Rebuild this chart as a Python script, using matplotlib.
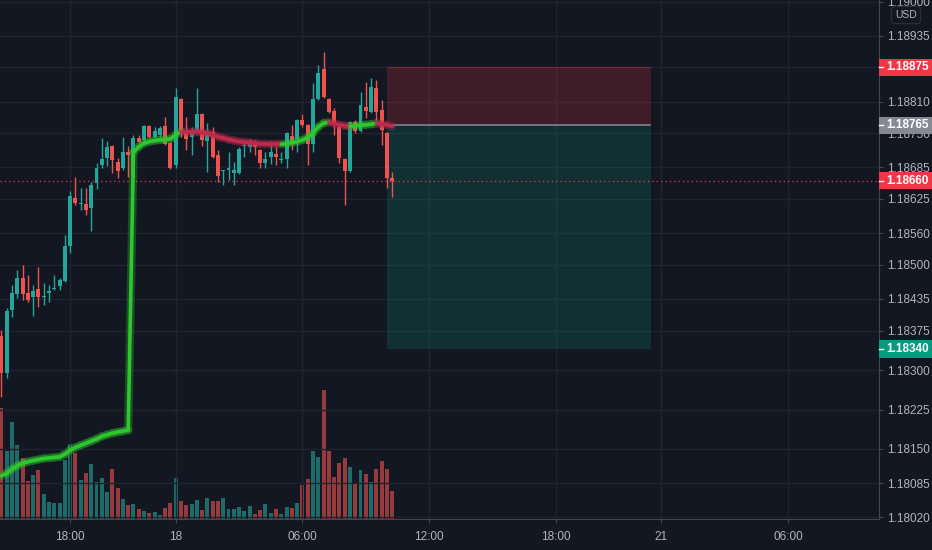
import numpy as np
import matplotlib
matplotlib.use('Agg')
import matplotlib.pyplot as plt
import matplotlib.transforms as mtransforms
from matplotlib.collections import LineCollection
from matplotlib.patches import Rectangle

plt.rcParams['font.family'] = ['Liberation Sans', 'DejaVu Sans']

# 15 minute EURUSD candles
opens = [1.18365, 1.18294, 1.18414, 1.18444, 1.18475, 1.18446, 1.18438, 1.18454, 1.18439, 1.18446,
         1.18454, 1.18460, 1.18470, 1.18536, 1.18626, 1.18615, 1.18615, 1.18608, 1.18655, 1.18690,
         1.18703, 1.18726, 1.18695, 1.18684, 1.18714, 1.18665, 1.18741, 1.18737, 1.18764, 1.18743,
         1.18747, 1.18764, 1.18731, 1.18690, 1.18815, 1.18752, 1.18743, 1.18754, 1.18786, 1.18735,
         1.18752, 1.18708, 1.18678, 1.18680, 1.18674, 1.18674, 1.18725, 1.18724, 1.18729, 1.18718,
         1.18693, 1.18705, 1.18710, 1.18699, 1.18701, 1.18745, 1.18739, 1.18775, 1.18766, 1.18729,
         1.18815, 1.18872, 1.18815, 1.18792, 1.18762, 1.18701, 1.18678, 1.18771, 1.18754, 1.18800,
         1.18790, 1.18836, 1.18794, 1.18750, 1.18665]
highs = [1.18376, 1.18417, 1.18461, 1.18490, 1.18500, 1.18480, 1.18461, 1.18496, 1.18465, 1.18461,
         1.18480, 1.18475, 1.18557, 1.18641, 1.18666, 1.18645, 1.18645, 1.18658, 1.18693, 1.18740,
         1.18735, 1.18728, 1.18703, 1.18743, 1.18726, 1.18747, 1.18747, 1.18766, 1.18766, 1.18762,
         1.18764, 1.18781, 1.18733, 1.18836, 1.18817, 1.18781, 1.18762, 1.18836, 1.18788, 1.18769,
         1.18762, 1.18718, 1.18680, 1.18714, 1.18695, 1.18724, 1.18737, 1.18739, 1.18737, 1.18720,
         1.18714, 1.18735, 1.18726, 1.18714, 1.18752, 1.18766, 1.18777, 1.18786, 1.18767, 1.18845,
         1.18880, 1.18904, 1.18817, 1.18798, 1.18766, 1.18703, 1.18773, 1.18775, 1.18828, 1.18847,
         1.18855, 1.18851, 1.18813, 1.18752, 1.18676]
lows = [1.18249, 1.18284, 1.18400, 1.18436, 1.18433, 1.18430, 1.18403, 1.18420, 1.18423, 1.18429,
        1.18452, 1.18453, 1.18468, 1.18523, 1.18614, 1.18604, 1.18595, 1.18565, 1.18644, 1.18683,
        1.18688, 1.18674, 1.18665, 1.18680, 1.18667, 1.18661, 1.18731, 1.18735, 1.18741, 1.18741,
        1.18743, 1.18728, 1.18682, 1.18684, 1.18743, 1.18718, 1.18708, 1.18752, 1.18726, 1.18676,
        1.18703, 1.18657, 1.18652, 1.18661, 1.18652, 1.18672, 1.18705, 1.18714, 1.18708, 1.18684,
        1.18684, 1.18691, 1.18690, 1.18693, 1.18684, 1.18718, 1.18714, 1.18762, 1.18690, 1.18714,
        1.18813, 1.18817, 1.18788, 1.18747, 1.18693, 1.18614, 1.18676, 1.18750, 1.18752, 1.18779,
        1.18788, 1.18775, 1.18728, 1.18646, 1.18629]
closes = [1.18294, 1.18412, 1.18446, 1.18475, 1.18444, 1.18434, 1.18451, 1.18439, 1.18441, 1.18451,
          1.18456, 1.18471, 1.18536, 1.18631, 1.18617, 1.18618, 1.18604, 1.18652, 1.18684, 1.18701,
          1.18724, 1.18699, 1.18678, 1.18714, 1.18708, 1.18741, 1.18733, 1.18764, 1.18743, 1.18754,
          1.18760, 1.18729, 1.18684, 1.18819, 1.18750, 1.18739, 1.18754, 1.18786, 1.18737, 1.18754,
          1.18705, 1.18669, 1.18680, 1.18684, 1.18680, 1.18720, 1.18727, 1.18729, 1.18724, 1.18693,
          1.18701, 1.18714, 1.18705, 1.18701, 1.18750, 1.18733, 1.18775, 1.18766, 1.18729, 1.18815,
          1.18864, 1.18819, 1.18790, 1.18766, 1.18703, 1.18678, 1.18771, 1.18754, 1.18804, 1.18792,
          1.18838, 1.18790, 1.18756, 1.18665, 1.18660]
volumes = [111, 68, 97, 74, 61, 38, 44, 49, 25, 17, 16, 16, 59, 75, 66, 39, 46, 55, 37, 41,
           27, 50, 31, 20, 14, 15, 10, 8, 6, 7, 4, 11, 16, 41, 18, 14, 15, 19, 9, 21,
           18, 18, 21, 10, 10, 12, 8, 13, 5, 9, 15, 6, 10, 5, 12, 11, 16, 34, 40, 68,
           62, 129, 68, 42, 56, 61, 52, 36, 49, 45, 37, 50, 58, 50, 28]
# session average line (resets mid chart)
avg_line = [1.18099, 1.18104, 1.18112, 1.18118, 1.18123, 1.18126, 1.18128, 1.18130, 1.18132, 1.18133,
            1.18134, 1.18135, 1.18140, 1.18148, 1.18153, 1.18157, 1.18161, 1.18165, 1.18169, 1.18174,
            1.18177, 1.18180, 1.18182, 1.18184, 1.18186, 1.18714, 1.18724, 1.18731, 1.18734, 1.18736,
            1.18737, 1.18738, 1.18739, 1.18747, 1.18753, 1.18753, 1.18752, 1.18752, 1.18751, 1.18750,
            1.18747, 1.18743, 1.18741, 1.18738, 1.18736, 1.18734, 1.18733, 1.18732, 1.18731, 1.18730,
            1.18730, 1.18729, 1.18729, 1.18729, 1.18730, 1.18732, 1.18734, 1.18737, 1.18742, 1.18750,
            1.18762, 1.18769, 1.18771, 1.18768, 1.18766, 1.18764, 1.18763, 1.18764, 1.18765, 1.18766,
            1.18767, 1.18769, 1.18767, 1.18766, 1.18763]

# short position tool
entry = 1.18765
stop = 1.18875
target = 1.18340
last_price = 1.18660
pos_start, pos_end = 73, 123

price_ticks = [1.19000, 1.18935, 1.18875, 1.18810, 1.18750, 1.18685, 1.18625, 1.18560, 1.18500,
               1.18435, 1.18375, 1.18300, 1.18225, 1.18150, 1.18085, 1.18020]
time_pos = [13, 33, 57, 81, 105, 125, 149]
time_labels = ['18:00', '18', '06:00', '12:00', '18:00', '21', '06:00']

bg = '#131722'
txt = '#b2b5be'
line_c = '#434651'
grid_c = '#1f2330'
teal = '#26a69a'
red = '#ef5350'

fig = plt.figure(figsize=(9.32, 5.5), dpi=100, facecolor=bg)
rect = [0, 31 / 550, 879 / 932, 519 / 550]
axv = fig.add_axes(rect)
ax = fig.add_axes(rect)
ax.patch.set_alpha(0)

x = np.arange(len(opens))
o = np.array(opens)
c = np.array(closes)
up = c >= o
xlim = (-0.28, 166.2)

# volume underneath
vcol = [(38/255, 166/255, 154/255, 0.6) if u else (239/255, 83/255, 80/255, 0.6) for u in up]
axv.bar(x, volumes, width=0.75, color=vcol, linewidth=0)
axv.set_xlim(*xlim)
axv.set_ylim(0, 519)
axv.axis('off')

# grid
ax.set_xlim(*xlim)
ax.set_ylim(1.18017, 1.19003)
ax.set_yticks(price_ticks)
ax.set_yticklabels([f'{p:.5f}' for p in price_ticks])
ax.set_xticks(time_pos)
ax.set_xticklabels(time_labels)
ax.grid(True, color=grid_c, lw=1, zorder=0)
ax.set_axisbelow(True)

# position box
ax.fill_between([pos_start, pos_end], entry, stop, color='#f23645', alpha=0.2, lw=0, zorder=1)
ax.fill_between([pos_start, pos_end], target, entry, color='#089981', alpha=0.2, lw=0, zorder=1)
ax.hlines(entry, pos_start, pos_end, color='#787b86', lw=1.3, zorder=2)
ax.hlines(stop, pos_start, pos_end, color='#f23645', lw=0.8, alpha=0.3, zorder=2)

ax.axhline(last_price, color='#f23645', lw=0.9, ls=(0, (1, 2.5)), zorder=2)

# candles
ccol = np.where(up, teal, red)
ax.vlines(x, lows, highs, colors=ccol, lw=1, zorder=3)
body_lo = np.minimum(o, c)
body_h = np.maximum(np.abs(c - o), 0.000015)
ax.bar(x, body_h, bottom=body_lo, width=0.75, color=ccol, linewidth=0, zorder=4)

# average line, green when rising, red otherwise
av = np.array(avg_line)
pts = np.column_stack([x, av]).reshape(-1, 1, 2)
segs = np.concatenate([pts[:-1], pts[1:]], axis=1)
seg_col = ['#2ec72e' if av[i + 1] > av[i] else '#c02a4c' for i in range(len(av) - 1)]
glow = LineCollection(segs, colors=seg_col, linewidths=6, alpha=0.3, zorder=5, capstyle='round')
ax.add_collection(glow)
main = LineCollection(segs, colors=seg_col, linewidths=2.6, zorder=6, capstyle='round')
ax.add_collection(main)

# axes look
for s in ['top', 'left']:
    ax.spines[s].set_visible(False)
ax.spines['right'].set_color(line_c)
ax.spines['bottom'].set_color(line_c)
ax.yaxis.tick_right()
ax.tick_params(axis='y', colors=line_c, labelcolor=txt, labelsize=8.5, length=3, pad=3)
ax.tick_params(axis='x', colors=line_c, labelcolor=txt, labelsize=8.5, length=3, pad=6)

# price badges on the right scale
trans = mtransforms.blended_transform_factory(ax.transAxes, ax.transData)
half = 0.000162
for val, colr in [(stop, '#f23645'), (entry, '#868993'), (last_price, '#f23645'), (target, '#089981')]:
    ax.add_patch(Rectangle((1.0, val - half), 0.062, 2 * half, transform=trans,
                           facecolor=colr, edgecolor='none', clip_on=False, zorder=9))
    ax.plot([1.0, 1.0 + 4 / 879], [val, val], transform=trans, color='white', lw=1,
            clip_on=False, zorder=10)
    ax.text(1.0 + 7 / 879, val, f'{val:.5f}', transform=trans, ha='left', va='center',
            color='white', fontsize=8.5, fontweight='bold', zorder=11, clip_on=False)

fig.text(906 / 932, 1 - 15 / 550, 'USD', ha='center', va='center', fontsize=7.5, color=txt,
         bbox=dict(boxstyle='round,pad=0.35', fc=bg, ec='#2a2e39'))

fig.savefig('out.png', dpi=100, facecolor=bg)
